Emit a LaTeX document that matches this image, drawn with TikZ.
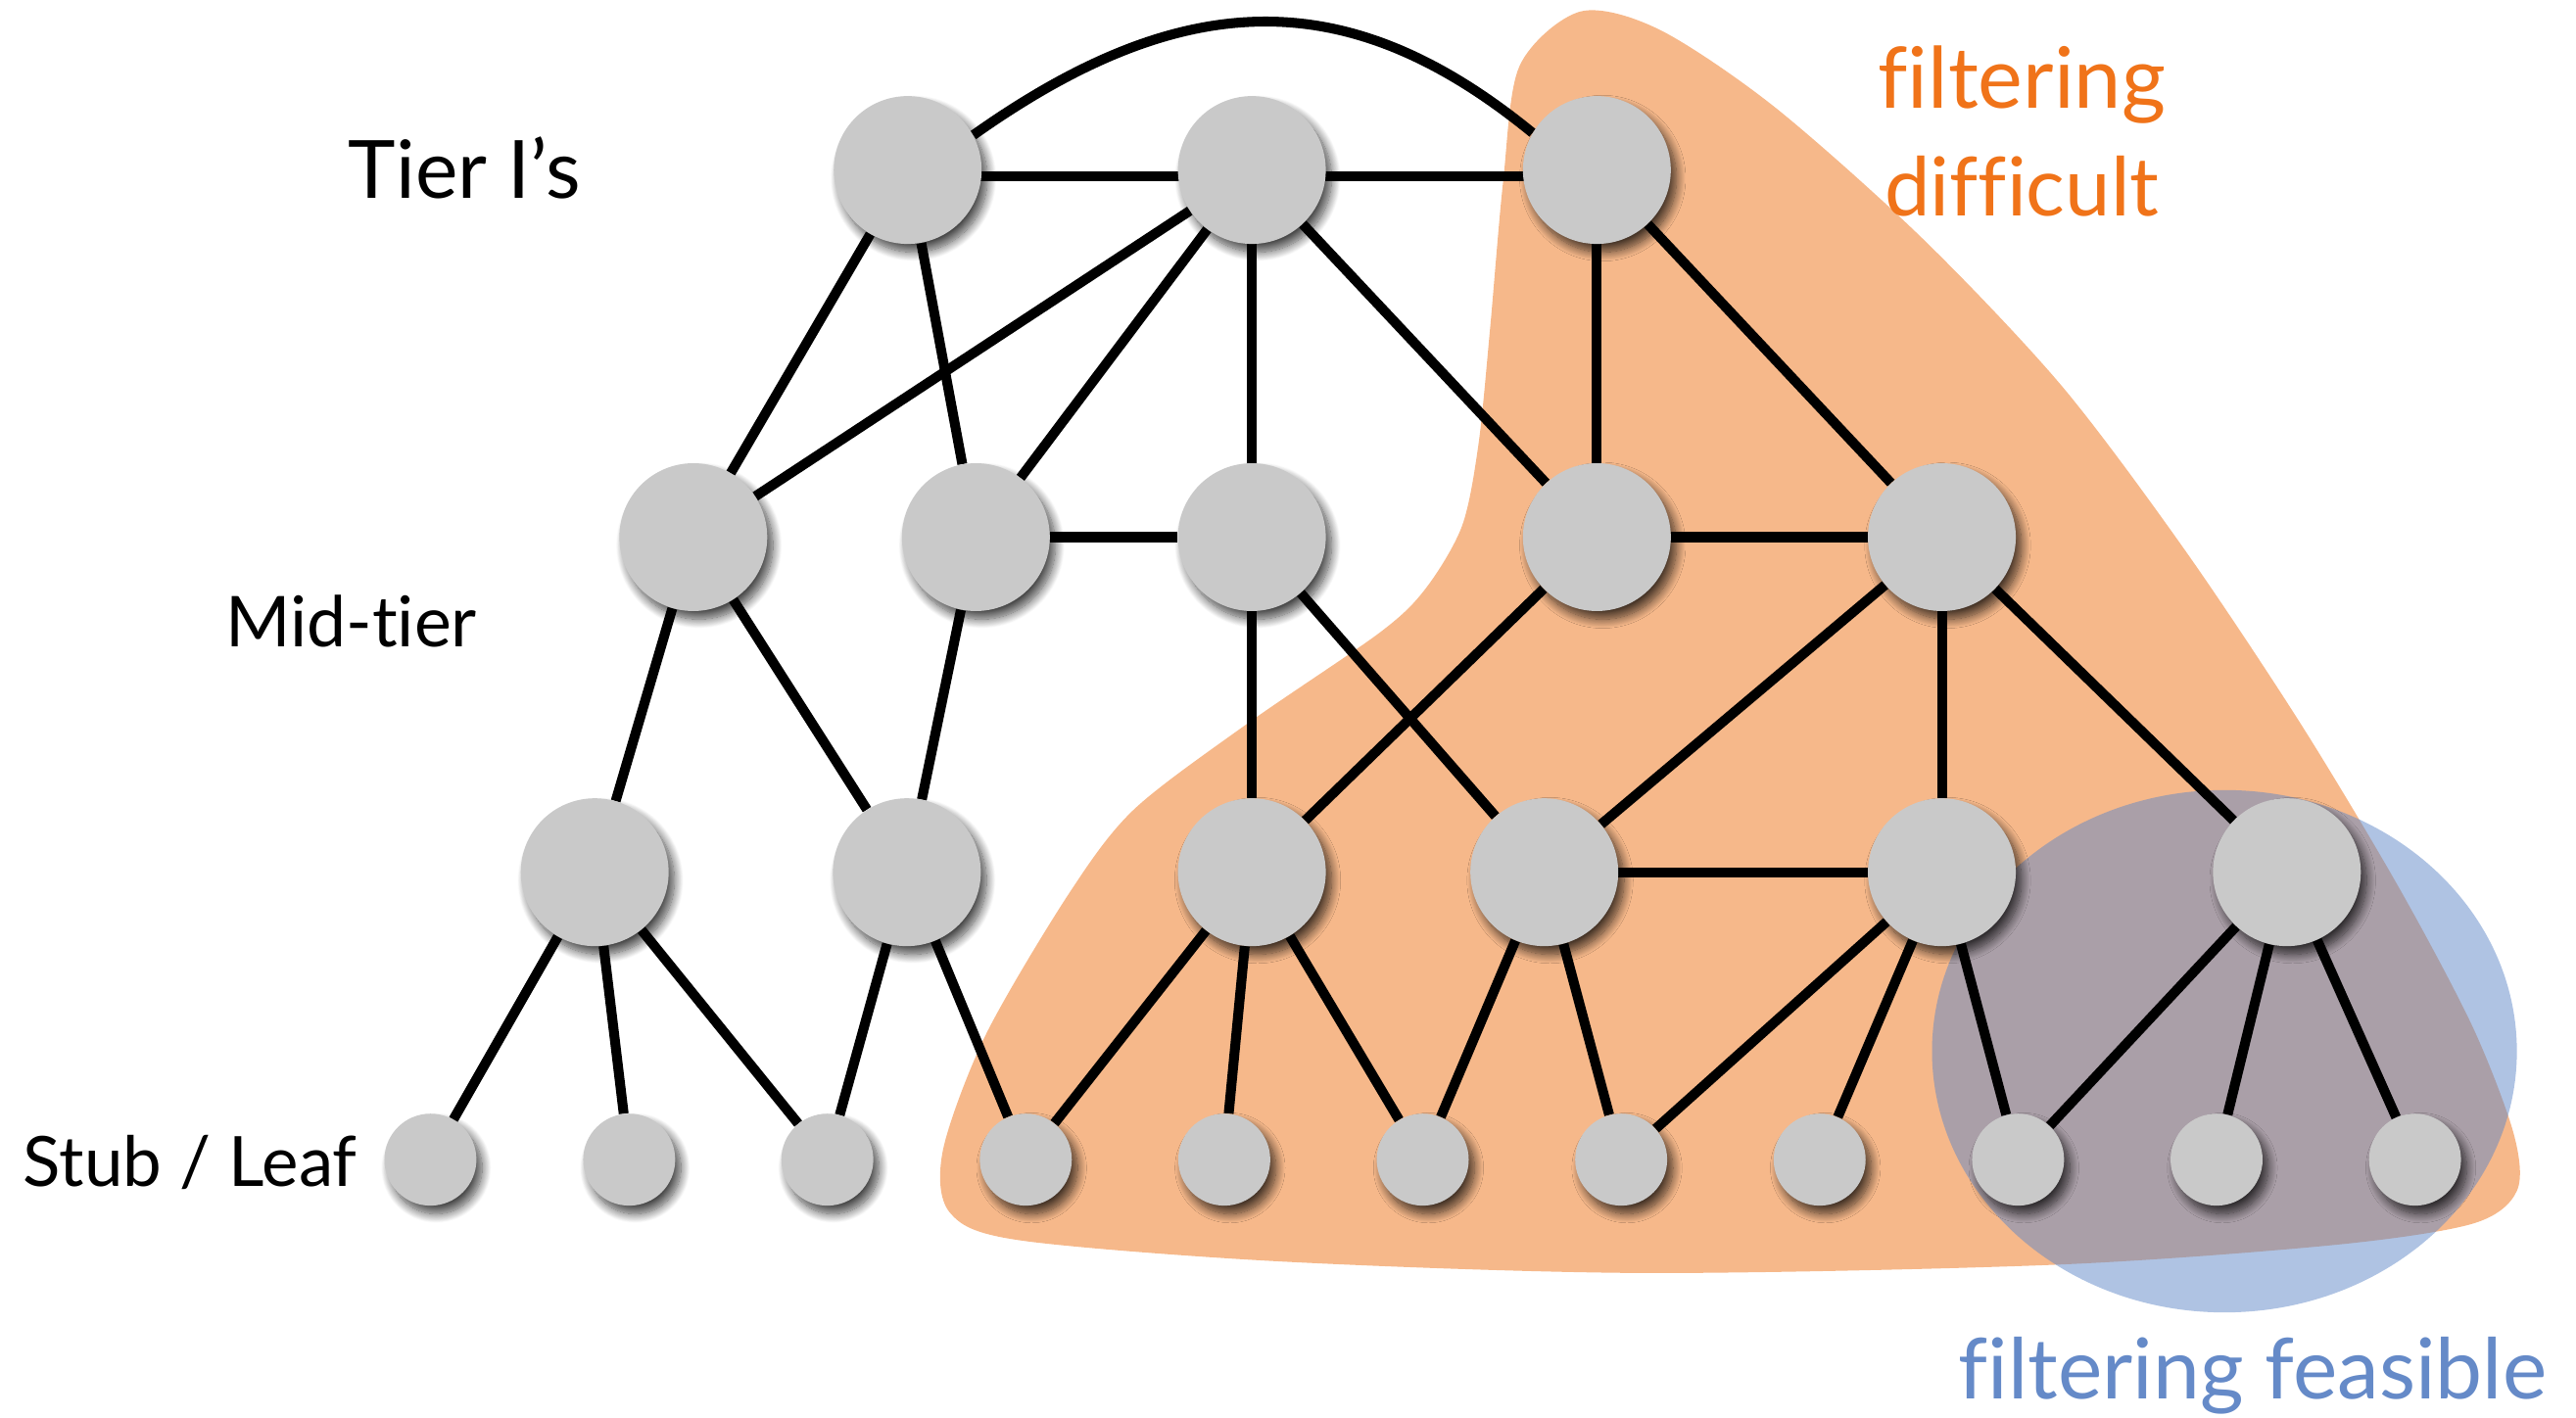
\documentclass[tikz,border=0pt]{standalone}
\usepackage{fontspec}
\setmainfont{Lato}[Ligatures=NoCommon]
\usetikzlibrary{shadows.blur}

\definecolor{nodegray}{RGB}{201,201,201}
\definecolor{hardorange}{RGB}{240,115,25}
\definecolor{blobfill}{RGB}{246,184,138}
\definecolor{easyblue}{RGB}{95,135,199}
\definecolor{easytext}{RGB}{101,138,200}

\pgfdeclarelayer{regions}
\pgfdeclarelayer{edges}
\pgfsetlayers{regions,edges,main}

% label set to a fixed width
\newcommand{\fitlabel}[2]{\resizebox{#1pt}{!}{\fontsize{48}{58}\selectfont #2}}

\begin{document}
\begin{tikzpicture}[x=1pt,y=-1pt,
  hub/.style={circle, fill=nodegray, minimum size=90pt, inner sep=0pt,
    blur shadow={shadow xshift=3.5pt, shadow yshift=-5pt,
      shadow blur radius=5.5pt, shadow blur steps=14, shadow opacity=72}},
  leaf/.style={hub, minimum size=56pt},
  link/.style={line width=6pt, black},
  lbl/.style={anchor=base west, inner sep=0pt},
]
\useasboundingbox (0,0) rectangle (1568,863);

% tier 1
\node[hub] (a1) at (552.5,103.5) {};
\node[hub] (a2) at (762,103.5) {};
\node[hub] (a3) at (972,103.5) {};
% mid tier
\node[hub] (m1) at (422,327) {};
\node[hub] (m2) at (594,327) {};
\node[hub] (m3) at (762,327) {};
\node[hub] (m4) at (972,327) {};
\node[hub] (m5) at (1182,327) {};
% lower tier
\node[hub] (b1) at (362,531) {};
\node[hub] (b2) at (552,531) {};
\node[hub] (b3) at (762,531) {};
\node[hub] (b4) at (940,531) {};
\node[hub] (b5) at (1182,531) {};
\node[hub] (b6) at (1392,531) {};
% stubs
\foreach \i/\x in {1/262,2/383,3/503.6,4/624.4,5/745.2,6/866,7/986.8,8/1107.6,9/1228.4,10/1349.2,11/1470}
  \node[leaf] (l\i) at (\x,706) {};

\begin{pgfonlayer}{regions}
  % region where filtering is difficult
  \fill[blobfill] plot[smooth cycle, tension=0.5] coordinates {
    (962,7) (1010,18) (1080,65) (1170,145) (1255,235) (1330,335)
    (1400,440) (1460,540) (1505,625) (1530,690) (1532,725) (1505,745)
    (1420,758) (1250,770) (1000,775) (780,768) (620,755) (578,738)
    (574,700) (600,630) (650,545) (690,493) (760,440) (840,385)
    (868,358) (890,320) (900,270) (907,200) (915,110) (925,40)};
  % region where filtering is feasible
  \fill[easyblue, opacity=0.5] (1354,640) ellipse[x radius=178pt, y radius=159pt];
\end{pgfonlayer}

\begin{pgfonlayer}{edges}
  \draw[link] (a1.28) .. controls (722,-9.7) and (822,-9.7) .. (a3.150);
  \draw[link] ([yshift=-4pt]a1.center) -- ([yshift=-4pt]a2.center);
  \draw[link] ([yshift=-4pt]a2.center) -- ([yshift=-4pt]a3.center);
  \draw[link] (a1) -- (m1);
  \draw[link] (a1) -- (m2);
  \draw[link] (a2) -- (m1);
  \draw[link] (a2) -- (m2);
  \draw[link] (a2) -- (m3);
  \draw[link] (a2) -- (m4);
  \draw[link] (a3) -- (m4);
  \draw[link] (a3) -- (m5);
  \draw[link] (m2) -- (m3);
  \draw[link] (m4) -- (m5);
  \draw[link] (m1) -- (b1);
  \draw[link] (m1) -- (b2);
  \draw[link] (m2) -- (b2);
  \draw[link] (m3) -- (b3);
  \draw[link] (m3) -- (b4);
  \draw[link] (m4) -- (b3);
  \draw[link] (m5) -- (b4);
  \draw[link] (m5) -- (b5);
  \draw[link] (m5) -- (b6);
  \draw[link] (b4) -- (b5);
  \draw[link] (b1) -- (l1);
  \draw[link] (b1) -- (l2);
  \draw[link] (b1) -- (l3);
  \draw[link] (b2) -- (l3);
  \draw[link] (b2) -- (l4);
  \draw[link] (b3) -- (l4);
  \draw[link] (b3) -- (l5);
  \draw[link] (b3) -- (l6);
  \draw[link] (b4) -- (l6);
  \draw[link] (b4) -- (l7);
  \draw[link] (b5) -- (l7);
  \draw[link] (b5) -- (l8);
  \draw[link] (b5) -- (l9);
  \draw[link] (b6) -- (l9);
  \draw[link] (b6) -- (l10);
  \draw[link] (b6) -- (l11);
\end{pgfonlayer}

% tier labels
\node[lbl] (t1) at (212,121) {\fitlabel{141}{Tier I’s}};
\node[lbl] (t2) at (137,394) {\fitlabel{153}{Mid-tier}};
\node[lbl] (t3) at (14,722.5) {\fitlabel{203}{Stub / Leaf}};
% region labels
\node[lbl, text=hardorange] (h1) at (1143,66) {\fitlabel{175}{filtering}};
\node[lbl, text=hardorange] (h2) at (1147,131.6) {\fitlabel{167}{difficult}};
\node[lbl, text=easytext] (e1) at (1192,851.7) {\fitlabel{358}{filtering feasible}};

\end{tikzpicture}
\end{document}
